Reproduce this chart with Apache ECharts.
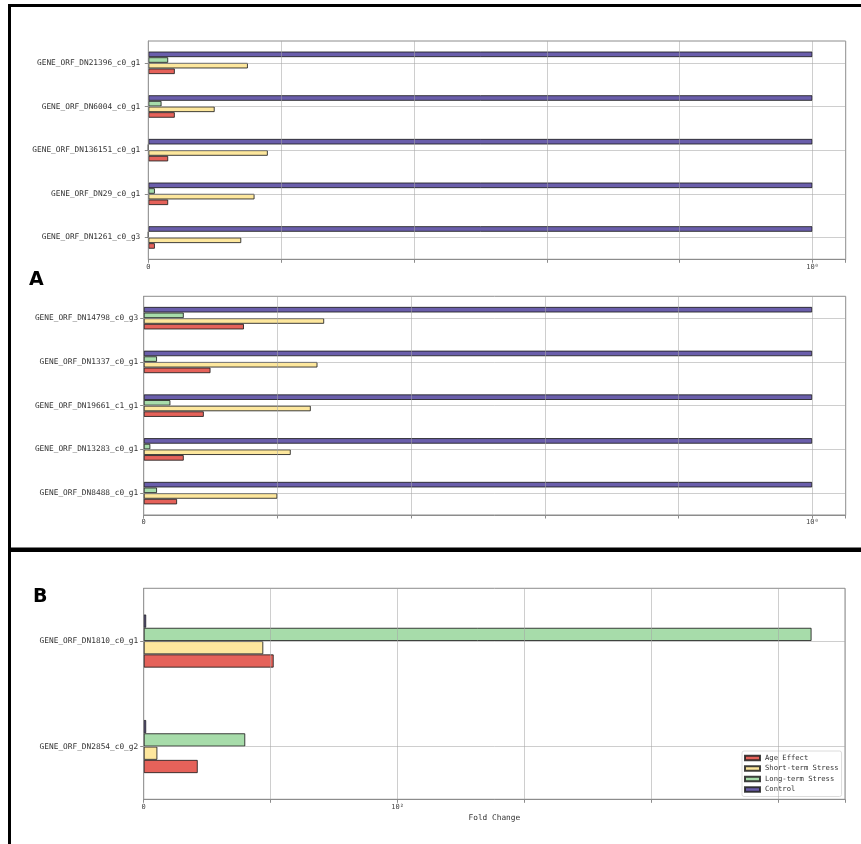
<!DOCTYPE html>
<html>
<head>
<meta charset="utf-8">
<script src="https://cdn.jsdelivr.net/npm/echarts@6/dist/echarts.min.js"></script>
<style>
  html, body { margin: 0; padding: 0; background: #ffffff; }
  #chart { width: 861px; height: 844px; }
</style>
</head>
<body>
<div id="chart"></div>
<script>
// Condition names, in legend order
const conditionNames = ['Age Effect', 'Short-term Stress', 'Long-term Stress', 'Control'];

// Panel A, upper block (genes listed top to bottom)
const genesA1 = ['GENE_ORF_DN21396_c0_g1', 'GENE_ORF_DN6004_c0_g1', 'GENE_ORF_DN136151_c0_g1', 'GENE_ORF_DN29_c0_g1', 'GENE_ORF_DN1261_c0_g3'];
const ageA1     = [0.04, 0.04, 0.03, 0.03, 0.01];
const shortA1   = [0.15, 0.10, 0.18, 0.16, 0.14];
const longA1    = [0.03, 0.02, 0.00, 0.01, 0.00];
const controlA1 = [1, 1, 1, 1, 1];

// Panel A, lower block
const genesA2 = ['GENE_ORF_DN14798_c0_g3', 'GENE_ORF_DN1337_c0_g1', 'GENE_ORF_DN19661_c1_g1', 'GENE_ORF_DN13283_c0_g1', 'GENE_ORF_DN8488_c0_g1'];
const ageA2     = [0.15, 0.10, 0.09, 0.06, 0.05];
const shortA2   = [0.27, 0.26, 0.25, 0.22, 0.20];
const longA2    = [0.06, 0.02, 0.04, 0.01, 0.02];
const controlA2 = [1, 1, 1, 1, 1];

// Panel B
const genesB = ['GENE_ORF_DN1810_c0_g1', 'GENE_ORF_DN2854_c0_g2'];
const ageB     = [51.2, 21.3];
const shortB   = [47.1, 5.4];
const longB    = [263, 40];
const controlB = [1, 1];

// Tick labels: only 0 and the decade get text
const tickTextA = { 0: '0', 1: '10\u2070' };
const tickTextB = { 0: '0', 100: '10\u00B2' };

const colors = {
  'Age Effect': '#e5625a',
  'Short-term Stress': '#fde79d',
  'Long-term Stress': '#a7dcaa',
  'Control': '#6a5eab'
};

const MONO = '"DejaVu Sans Mono", monospace';
const FRAME = '#8c8c8c';
const GRIDLINE = 'rgba(165,165,165,0.55)';

// grid boxes (pixels) and per-panel styling
const panels = [
  { genes: genesA1, data: { 'Age Effect': ageA1, 'Short-term Stress': shortA1, 'Long-term Stress': longA1, 'Control': controlA1 },
    box: { left: 148.3, top: 41, width: 697.4, height: 218.3 }, step: 0.2, ticks: tickTextA, barWidth: 5.65, labelMargin: 8 },
  { genes: genesA2, data: { 'Age Effect': ageA2, 'Short-term Stress': shortA2, 'Long-term Stress': longA2, 'Control': controlA2 },
    box: { left: 143.7, top: 296.3, width: 702, height: 218.7 }, step: 0.2, ticks: tickTextA, barWidth: 5.65, labelMargin: 5.5 },
  { genes: genesB, data: { 'Age Effect': ageB, 'Short-term Stress': shortB, 'Long-term Stress': longB, 'Control': controlB },
    box: { left: 143.7, top: 588.3, width: 701.3, height: 211 }, step: 50, ticks: tickTextB, barWidth: 13.3, labelMargin: 5.5, axisName: 'Fold Change' }
];

// bars stack from the top of each group: Control, Long-term, Short-term, Age
const drawOrder = ['Control', 'Long-term Stress', 'Short-term Stress', 'Age Effect'];

const grids = [], xAxes = [], yAxes = [], series = [];

panels.forEach((p, i) => {
  let dataMax = 0;
  drawOrder.forEach(n => p.data[n].forEach(v => { dataMax = Math.max(dataMax, v); }));

  grids.push({
    left: p.box.left, top: p.box.top, width: p.box.width, height: p.box.height,
    show: true, borderColor: FRAME, borderWidth: 1, backgroundColor: 'transparent'
  });

  xAxes.push({
    gridIndex: i, type: 'value', min: 0, max: dataMax * 1.05, interval: p.step, z: 5,
    name: p.axisName || '', nameLocation: 'middle', nameGap: 15,
    nameTextStyle: { fontFamily: MONO, fontSize: 7.8, color: '#333' },
    axisLine: { show: true, lineStyle: { color: FRAME, width: 1 } },
    axisTick: { show: true, length: 3.5, lineStyle: { color: FRAME } },
    axisLabel: {
      fontFamily: MONO, fontSize: 7, color: '#444', margin: 4,
      formatter: v => {
        for (const k in p.ticks) { if (Math.abs(v - Number(k)) < 1e-9) return p.ticks[k]; }
        return '';
      }
    },
    splitLine: { show: true, lineStyle: { color: GRIDLINE, width: 1 } }
  });

  yAxes.push({
    gridIndex: i, type: 'category', data: p.genes, inverse: true,
    axisLine: { show: true, lineStyle: { color: FRAME, width: 1 } },
    axisTick: { show: true, alignWithLabel: true, length: 3.5, lineStyle: { color: FRAME } },
    axisLabel: { fontFamily: MONO, fontSize: 7.8, color: '#333', margin: p.labelMargin },
    splitLine: { show: false }
  });

  drawOrder.forEach(name => {
    series.push({
      name: name, type: 'bar', xAxisIndex: i, yAxisIndex: i,
      data: p.data[name], barWidth: p.barWidth, barGap: '0%',
      itemStyle: { color: colors[name], borderColor: 'rgba(30,30,30,0.85)', borderWidth: 1 },
      emphasis: { disabled: true }, silent: true
    });
  });

  // horizontal grid lines through each gene's tick, drawn over the bars
  series.push({
    type: 'line', xAxisIndex: i, yAxisIndex: i, data: [], silent: true, z: 3,
    markLine: {
      silent: true, symbol: ['none', 'none'], label: { show: false },
      lineStyle: { color: GRIDLINE, width: 1, type: 'solid' },
      emphasis: { disabled: true },
      data: p.genes.map(g => ({ yAxis: g }))
    }
  });
});

const chart = echarts.init(document.getElementById('chart'), null, { renderer: 'canvas' });
chart.setOption({
  animation: false,
  backgroundColor: '#ffffff',
  grid: grids,
  xAxis: xAxes,
  yAxis: yAxes,
  series: series,
  legend: {
    data: conditionNames, orient: 'vertical', left: 742, top: 751,
    icon: 'rect', itemWidth: 15, itemHeight: 4.5, itemGap: 2.5,
    padding: [3, 3, 3, 2], selectedMode: false,
    backgroundColor: 'rgba(255,255,255,0.85)', borderColor: '#dcdcdc', borderWidth: 1, borderRadius: 2,
    textStyle: { fontFamily: MONO, fontSize: 7.2, color: '#333', lineHeight: 8 }
  },
  graphic: [
    { type: 'rect', shape: { x: 8, y: 4, width: 853, height: 3 }, style: { fill: '#000' }, silent: true },
    { type: 'rect', shape: { x: 8, y: 4, width: 3, height: 840 }, style: { fill: '#000' }, silent: true },
    { type: 'rect', shape: { x: 8, y: 547.5, width: 853, height: 4.5 }, style: { fill: '#000' }, silent: true },
    { type: 'text', x: 29, y: 280.5, style: { text: 'A', font: 'bold 19px "DejaVu Sans", sans-serif', fill: '#000', verticalAlign: 'middle' }, silent: true },
    { type: 'text', x: 33, y: 597.5, style: { text: 'B', font: 'bold 19px "DejaVu Sans", sans-serif', fill: '#000', verticalAlign: 'middle' }, silent: true }
  ]
});
</script>
</body>
</html>
